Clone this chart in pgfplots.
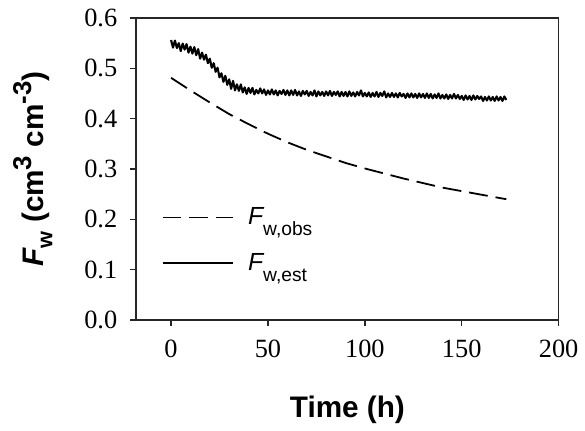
\documentclass[border=0pt]{standalone}
\usepackage{pgfplots}
\pgfplotsset{compat=1.18}
\usepackage{fontspec}
\setmainfont{Liberation Serif}
\newfontfamily\arial{Liberation Sans}
\begin{document}
\begin{tikzpicture}
\begin{axis}[
  scale only axis,
  width=212.5bp, height=152bp,
  xmin=-18, xmax=200, ymin=0, ymax=0.6,
  xtick={0,50,100,150,200},
  ytick={0,0.1,0.2,0.3,0.4,0.5,0.6},
  yticklabel style={/pgf/number format/fixed, /pgf/number format/fixed zerofill, /pgf/number format/precision=1},
  /pgf/number format/assume math mode=true,
  tick label style={font=\fontsize{13.3}{14}\selectfont},
  xtick pos=bottom, ytick pos=left,
  tick align=outside,
  major tick length=3bp,
  xticklabel style={yshift=-3.5bp},
  yticklabel style={xshift=-3bp},
  axis line style={line width=0.7bp, black!85},
  every tick/.style={line width=0.7bp, black!85},
  xlabel={\arial\bfseries Time (h)},
  ylabel={\arial\bfseries\itshape F\upshape\raisebox{-0.3em}{\fontsize{11}{11}\selectfont w} (cm\raisebox{0.42em}{\fontsize{13}{13}\selectfont 3} cm\raisebox{0.42em}{\fontsize{13}{13}\selectfont -3})},
  label style={font=\fontsize{15}{17}\selectfont},
  xlabel style={at={(axis description cs:0.5,0)}, anchor=center, yshift=-45bp},
  ylabel style={at={(axis description cs:0,0.5)}, anchor=center, rotate=0, yshift=52bp},
  legend style={at={(rel axis cs:0.045,0.40)}, anchor=north west, draw=none, fill=none,
    font=\arial\fontsize{12.5}{13}\selectfont, row sep=9bp,
    /tikz/every odd column/.append style={column sep=5bp}},
  legend cell align=left,
  legend image code/.code={\draw[#1] (0bp,0bp) -- (35.5bp,0bp);},
]
\addplot[black, line width=0.9bp, dash pattern=on 9.5bp off 4bp] table {
x y
0 0.481
10 0.456
20 0.432
30 0.409
40 0.389
50 0.370
60 0.353
70 0.338
80 0.325
90 0.312
100 0.301
110 0.291
120 0.281
130 0.272
140 0.263
150 0.256
160 0.249
170 0.242
173 0.240
};
\addlegendentry{\itshape F\upshape\raisebox{-0.45em}{\fontsize{9.7}{10}\selectfont w,obs}}
\addplot[black, line width=1.05bp, line join=round] table {
x y
0 0.556
1 0.541
2 0.555
3 0.540
4 0.550
5 0.534
6 0.549
7 0.537
8 0.548
9 0.531
10 0.543
11 0.529
12 0.542
13 0.526
14 0.538
15 0.519
16 0.531
17 0.517
18 0.527
19 0.510
20 0.519
21 0.501
22 0.510
23 0.493
24 0.501
25 0.482
26 0.490
27 0.473
28 0.485
29 0.467
30 0.478
31 0.459
32 0.475
33 0.456
34 0.468
35 0.455
36 0.468
37 0.452
38 0.462
39 0.449
40 0.461
41 0.451
42 0.461
43 0.448
44 0.457
45 0.450
46 0.460
47 0.450
48 0.458
49 0.447
50 0.456
51 0.448
52 0.458
53 0.448
54 0.456
55 0.446
56 0.455
57 0.449
58 0.457
59 0.447
60 0.456
61 0.446
62 0.456
63 0.447
64 0.457
65 0.446
66 0.454
67 0.445
68 0.455
69 0.448
70 0.455
71 0.445
72 0.453
73 0.446
74 0.456
75 0.444
76 0.454
77 0.446
78 0.453
79 0.445
80 0.454
81 0.446
82 0.455
83 0.445
84 0.453
85 0.447
86 0.454
87 0.444
88 0.453
89 0.445
90 0.453
91 0.444
92 0.454
93 0.445
94 0.452
95 0.444
96 0.453
97 0.446
98 0.456
99 0.444
100 0.451
101 0.444
102 0.452
103 0.443
104 0.451
105 0.444
106 0.453
107 0.443
108 0.451
109 0.445
110 0.454
111 0.442
112 0.450
113 0.443
114 0.451
115 0.443
116 0.450
117 0.442
118 0.451
119 0.444
120 0.449
121 0.441
122 0.450
123 0.442
124 0.450
125 0.442
126 0.449
127 0.441
128 0.450
129 0.442
130 0.449
131 0.441
132 0.450
133 0.441
134 0.449
135 0.440
136 0.448
137 0.441
138 0.450
139 0.440
140 0.447
141 0.440
142 0.448
143 0.439
144 0.447
145 0.440
146 0.449
147 0.440
148 0.447
149 0.439
150 0.445
151 0.437
152 0.446
153 0.438
154 0.445
155 0.437
156 0.446
157 0.438
158 0.445
159 0.439
160 0.444
161 0.435
162 0.443
163 0.436
164 0.444
165 0.436
166 0.443
167 0.435
168 0.444
169 0.436
170 0.443
171 0.435
172 0.444
173 0.437
};
\addlegendentry{\itshape F\upshape\raisebox{-0.45em}{\fontsize{9.7}{10}\selectfont w,est}}
\end{axis}
\path ([xshift=-68.5bp,yshift=-55.5bp]current axis.south west) rectangle ([xshift=11.5bp,yshift=9bp]current axis.north east);
\end{tikzpicture}
\end{document}
